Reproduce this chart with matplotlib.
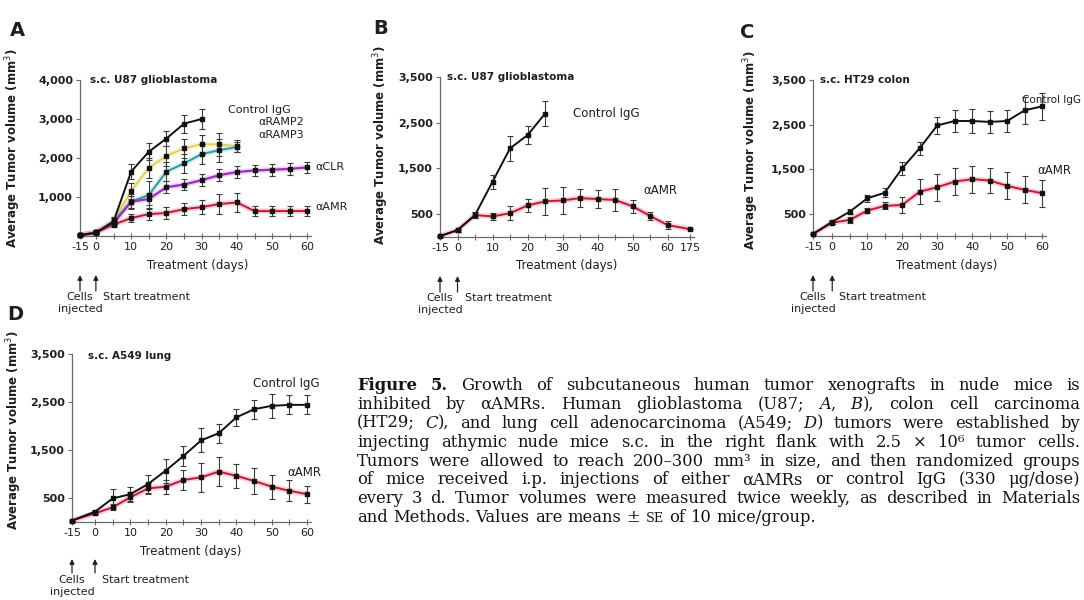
import re
import matplotlib
matplotlib.use("Agg")
import matplotlib.pyplot as plt
from matplotlib.transforms import blended_transform_factory

# ---------------- data ----------------
days_full = [-15, 0, 5, 10, 15, 20, 25, 30, 35, 40, 45, 50, 55, 60]

# Panel A  (s.c. U87 glioblastoma)
a_ctrl_days = [-15, 0, 5, 10, 15, 20, 25, 30]
a_ctrl = [20, 80, 370, 1650, 2160, 2500, 2880, 3000]
a_ctrl_err = [0, 30, 80, 200, 220, 200, 230, 250]
a_ramp_days = [-15, 0, 5, 10, 15, 20, 25, 30, 35, 40]
a_ramp2 = [20, 90, 400, 1150, 1750, 2050, 2250, 2350, 2350, 2300]
a_ramp2_err = [0, 30, 80, 200, 250, 250, 250, 250, 300, 150]
a_ramp3 = [20, 90, 380, 880, 1050, 1650, 1860, 2100, 2200, 2280]
a_ramp3_err = [0, 30, 80, 200, 350, 250, 250, 250, 300, 120]
a_clr = [20, 90, 330, 880, 950, 1250, 1320, 1430, 1560, 1640, 1680, 1700, 1720, 1760]
a_clr_err = [0, 30, 60, 150, 150, 150, 150, 150, 150, 150, 150, 150, 150, 150]
a_amr = [20, 90, 290, 460, 560, 590, 690, 740, 820, 860, 640, 640, 640, 640]
a_amr_err = [0, 30, 60, 100, 150, 150, 150, 180, 250, 250, 130, 130, 130, 130]

# Panel B  (s.c. U87 glioblastoma, long follow-up)
b_ctrl_days = [-15, 0, 5, 10, 15, 20, 25]
b_ctrl = [20, 150, 480, 1210, 1940, 2230, 2700]
b_ctrl_err = [0, 30, 60, 150, 280, 200, 280]
b_amr_days = [-15, 0, 5, 10, 15, 20, 25, 30, 35, 40, 45, 50, 55, 60, 175]
b_amr = [20, 150, 480, 450, 520, 690, 780, 800, 850, 830, 810, 670, 460, 260, 170]
b_amr_err = [0, 30, 60, 80, 150, 150, 300, 300, 200, 200, 250, 150, 80, 80, 0]

# Panel C  (s.c. HT29 colon)
c_ctrl = [45, 320, 545, 845, 970, 1520, 1970, 2480, 2580, 2580, 2560, 2580, 2820, 2910]
c_ctrl_err = [0, 40, 60, 80, 100, 150, 150, 200, 250, 280, 250, 250, 300, 300]
c_amr = [45, 300, 360, 570, 675, 695, 995, 1095, 1220, 1275, 1245, 1125, 1035, 960]
c_amr_err = [0, 40, 60, 60, 80, 180, 280, 300, 300, 300, 280, 300, 300, 300]

# Panel D  (s.c. A549 lung)
d_ctrl = [30, 215, 490, 580, 790, 1070, 1375, 1700, 1850, 2180, 2350, 2420, 2440, 2440]
d_ctrl_err = [0, 40, 200, 150, 180, 250, 200, 250, 200, 180, 200, 250, 200, 200]
d_amr = [30, 180, 305, 515, 700, 735, 875, 930, 1050, 960, 855, 735, 650, 580]
d_amr_err = [0, 40, 60, 100, 120, 150, 200, 300, 300, 250, 280, 250, 220, 180]

xtick_days = [-15, 0, 10, 20, 30, 40, 50, 60]
a_yticks = [1000, 2000, 3000, 4000]
bcd_yticks = [500, 1500, 2500, 3500]

caption_lines = [
    "**Figure** **5.** Growth of subcutaneous human tumor xenografts in nude mice is",
    "inhibited by αAMRs. Human glioblastoma (U87; *A*, *B*), colon cell carcinoma",
    "(HT29; *C*), and lung cell adenocarcinoma (A549; *D*) tumors were established by",
    "injecting athymic nude mice s.c. in the right flank with 2.5 × 10⁶ tumor cells.",
    "Tumors were allowed to reach 200–300 mm³ in size, and then randomized groups",
    "of mice received i.p. injections of either αAMRs or control IgG (330 μg/dose)",
    "every 3 d. Tumor volumes were measured twice weekly, as described in Materials",
    "and Methods. Values are means ± _SE_ of 10 mice/group.",
]

# ---------------- layout ----------------
W, H = 1084, 600
fig = plt.figure(figsize=(W / 100, H / 100), dpi=100)
SANS = ['DejaVu Sans']
SERIF = ['DejaVu Serif']
TXT = '#1e1e1e'
AX = '#6a6a6a'


def add_axes(l, t, r, b):
    ax = fig.add_axes([l / W, 1 - b / H, (r - l) / W, (b - t) / H])
    ax.patch.set_alpha(0)
    return ax


def xpos(d, neg, late=66.5):
    if d == -15:
        return neg
    if d == 175:
        return late
    return d


def fmt(v):
    return f"{v:,}"


def style(ax, neg, xmax, ymax, yticks, extra=None):
    ax.set_xlim(neg, xmax)
    ax.set_ylim(0, ymax)
    for s in ['top', 'right']:
        ax.spines[s].set_visible(False)
    for s in ['left', 'bottom']:
        ax.spines[s].set_color(AX)
        ax.spines[s].set_linewidth(0.9)
    ax.set_yticks(yticks)
    ax.set_yticklabels([fmt(v) for v in yticks], fontsize=8, fontweight='bold',
                       color=TXT, family=SANS)
    xt = [xpos(d, neg) for d in xtick_days]
    xl = [str(d) for d in xtick_days]
    minor = [5, 15, 25, 35, 45, 55]
    if extra is not None:
        xt.append(xpos(extra, neg))
        xl.append(str(extra))
    ax.set_xticks(xt)
    ax.set_xticklabels(xl, fontsize=8, color=TXT, family=SANS)
    ax.set_xticks(minor, minor=True)
    ax.tick_params(axis='x', which='both', direction='inout', length=4, width=0.8,
                   color=AX, pad=2)
    ax.tick_params(axis='y', direction='out', length=3, width=0.8, color=AX, pad=2)


def series(ax, d, v, e, color, neg, halo=None, lw=1.3):
    xs = [xpos(x, neg) for x in d]
    if halo:
        ax.plot(xs, v, color=halo, lw=4, alpha=0.45, solid_capstyle='round',
                zorder=2, clip_on=False)
    ax.plot(xs, v, color=color, lw=lw, zorder=3, clip_on=False)
    ax.errorbar(xs, v, yerr=e, fmt='s', ms=2.6, color='#111', ecolor='#3a3a3a',
                elinewidth=0.8, capsize=2, capthick=0.8, zorder=4, clip_on=False)


def ftext(x, y, s, **kw):
    kw.setdefault('color', TXT)
    kw.setdefault('family', SANS)
    kw.setdefault('va', 'center')
    fig.text(x / W, 1 - y / H, s, **kw)


def bottom_notes(ax, neg, bottom, tcx, arr=(39, 55), cells=61, inj=73):
    tr = blended_transform_factory(ax.transData, fig.transFigure)
    for xv in (neg, 0):
        ax.annotate('', xy=(xv, H - (bottom + arr[0])), xytext=(xv, H - (bottom + arr[1])),
                    xycoords=('data', 'figure pixels'),
                    textcoords=('data', 'figure pixels'),
                    arrowprops=dict(arrowstyle='-|>', color='#222', lw=0.9,
                                    mutation_scale=7, shrinkA=0, shrinkB=0),
                    annotation_clip=False)
    ax.text(neg, 1 - (bottom + cells) / H, 'Cells', transform=tr, ha='center',
            va='center', fontsize=8, color=TXT, family=SANS, clip_on=False)
    ax.text(neg, 1 - (bottom + inj) / H, 'injected', transform=tr, ha='center',
            va='center', fontsize=8, color=TXT, family=SANS, clip_on=False)
    ax.text(0, 1 - (bottom + cells) / H, '  Start treatment', transform=tr, ha='left',
            va='center', fontsize=8, color=TXT, family=SANS, clip_on=False)
    ftext(tcx, bottom + 29, 'Treatment (days)', ha='center', fontsize=8.5)


YLAB = 'Average Tumor volume (mm$^3$)'
RED = '#c41a3a'
PINK = '#f59aa8'

# ---- Panel A ----
negA = -4.5
axA = add_axes(80, 80, 311, 236)
style(axA, negA, 61, 4000, a_yticks)
series(axA, a_ramp_days, a_ramp2, a_ramp2_err, '#e2cf5a', negA, halo='#f4ecb0', lw=1.4)
series(axA, a_ramp_days, a_ramp3, a_ramp3_err, '#2a9d9a', negA, halo='#a6dedc', lw=1.4)
series(axA, days_full, a_clr, a_clr_err, '#a02cc0', negA, halo='#d9a8ec', lw=1.6)
series(axA, days_full, a_amr, a_amr_err, RED, negA, halo=PINK, lw=1.4)
series(axA, a_ctrl_days, a_ctrl, a_ctrl_err, '#111111', negA, lw=1.4)
ftext(10, 30, 'A', fontsize=14, fontweight='bold', ha='left')
ftext(90, 80, 's.c. U87 glioblastoma', fontsize=7.5, fontweight='bold', ha='left')
ftext(13, 148, YLAB, rotation=90, fontsize=8.5, fontweight='bold', ha='center')
ftext(228, 110, 'Control IgG', fontsize=8, ha='left')
ftext(258, 122, 'αRAMP2', fontsize=8, ha='left')
ftext(258, 135, 'αRAMP3', fontsize=8, ha='left')
ftext(315, 167, 'αCLR', fontsize=8, ha='left')
ftext(315, 207, 'αAMR', fontsize=8, ha='left')
bottom_notes(axA, negA, 236, 198)

# ---- Panel B ----
negB = -5
axB = add_axes(440, 77, 694, 237)
style(axB, negB, 67.5, 3500, bcd_yticks, extra=175)
series(axB, b_amr_days, b_amr, b_amr_err, RED, negB, halo=PINK, lw=1.4)
series(axB, b_ctrl_days, b_ctrl, b_ctrl_err, '#111111', negB, lw=1.4)
ftext(373, 28, 'B', fontsize=14, fontweight='bold', ha='left')
ftext(447, 77, 's.c. U87 glioblastoma', fontsize=7.5, fontweight='bold', ha='left')
ftext(381, 145, YLAB, rotation=90, fontsize=8.5, fontweight='bold', ha='center')
ftext(573, 113, 'Control IgG', fontsize=8.5, ha='left')
ftext(643, 190, 'αAMR', fontsize=8.5, ha='left')
bottom_notes(axB, negB, 237, 567)

# ---- Panel C ----
negC = -5.5
axC = add_axes(813, 80, 1046, 236)
style(axC, negC, 61.1, 3500, bcd_yticks)
series(axC, days_full, c_amr, c_amr_err, RED, negC, halo=PINK, lw=1.4)
series(axC, days_full, c_ctrl, c_ctrl_err, '#111111', negC, lw=1.4)
ftext(740, 32, 'C', fontsize=14, fontweight='bold', ha='left')
ftext(820, 80, 's.c. HT29 colon', fontsize=7.5, fontweight='bold', ha='left')
ftext(751, 150, YLAB, rotation=90, fontsize=8.5, fontweight='bold', ha='center')
ftext(1081, 100, 'Control IgG', fontsize=7.5, ha='right')
ftext(1037, 170, 'αAMR', fontsize=8.5, ha='left')
bottom_notes(axC, negC, 236, 947)

# ---- Panel D ----
negD = -6.5
axD = add_axes(72, 354, 311, 522)
style(axD, negD, 61.1, 3500, bcd_yticks)
series(axD, days_full, d_amr, d_amr_err, RED, negD, halo=PINK, lw=1.4)
series(axD, days_full, d_ctrl, d_ctrl_err, '#111111', negD, lw=1.4)
ftext(7, 314, 'D', fontsize=14, fontweight='bold', ha='left')
ftext(88, 356, 's.c. A549 lung', fontsize=7.5, fontweight='bold', ha='left')
ftext(14, 430, YLAB, rotation=90, fontsize=8.5, fontweight='bold', ha='center')
ftext(253, 383, 'Control IgG', fontsize=8.5, ha='left')
ftext(287, 473, 'αAMR', fontsize=8.5, ha='left')
bottom_notes(axD, negD, 522, 191, arr=(37, 51), cells=58, inj=70)

# ---- Caption (justified) ----
renderer = fig.canvas.get_renderer()
CAP_SIZE = 11.8


def parse_word(w):
    segs = []
    for m in re.finditer(r'\*\*(.+?)\*\*|\*(.+?)\*|_(.+?)_|([^*_]+)', w):
        if m.group(1):
            segs.append((m.group(1), dict(fontweight='bold')))
        elif m.group(2):
            segs.append((m.group(2), dict(fontstyle='italic')))
        elif m.group(3):
            segs.append((m.group(3), dict(fontsize=CAP_SIZE - 2.5)))
        else:
            segs.append((m.group(4), {}))
    return segs


def make_text(s, props):
    kw = dict(fontsize=CAP_SIZE, color='#141414', family=SERIF, va='baseline',
              ha='left')
    kw.update(props)
    t = fig.text(0, 0, s, transform=None, **kw)
    return t, t.get_window_extent(renderer).width


def space_width():
    t1, w1 = make_text('a a', {})
    t2, w2 = make_text('aa', {})
    t1.remove(); t2.remove()
    return w1 - w2


SP = space_width()
X0, TARGET = 357, 723
for i, line in enumerate(caption_lines):
    base = H - (390 + i * 18.9)
    words = []
    for w in line.split(' '):
        segs = [make_text(s, p) for s, p in parse_word(w)]
        words.append(segs)
    widths = [sum(w for _, w in segs) for segs in words]
    last = (i == len(caption_lines) - 1)
    gap = SP if last else (TARGET - sum(widths)) / (len(words) - 1)
    gap = max(gap, SP * 0.6)
    x = X0
    for segs, ww in zip(words, widths):
        xx = x
        for t, w in segs:
            t.set_position((xx, base))
            xx += w
        x += ww + gap

fig.savefig('out.png', dpi=100)
